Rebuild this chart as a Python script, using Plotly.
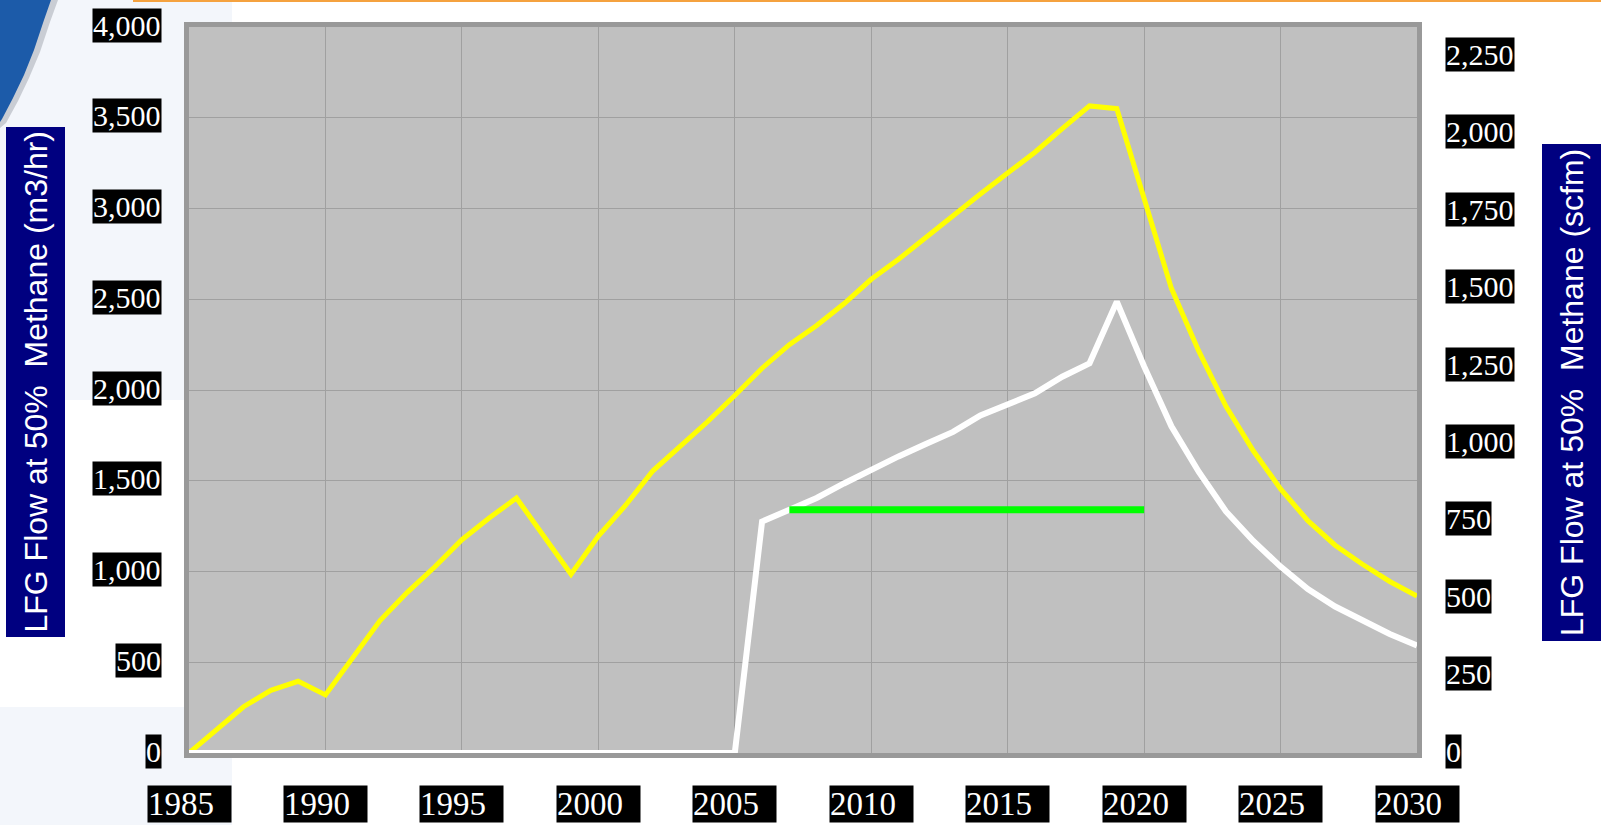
import plotly.graph_objects as go

# ---------------- data ----------------
years = list(range(1985, 2031))

lfg_generation_m3hr = [
    0, 125, 255, 345, 395, 320, 525, 730, 885, 1025,
    1175, 1295, 1405, 1200, 985, 1195, 1365, 1555, 1690, 1825,
    1970, 2120, 2250, 2355, 2475, 2610, 2720, 2840, 2965, 3080,
    3195, 3310, 3440, 3565, 3550, 3060, 2560, 2215, 1910, 1665,
    1455, 1280, 1145, 1040, 945, 865,
]

lfg_recovery_m3hr = [
    0, 0, 0, 0, 0, 0, 0, 0, 0, 0,
    0, 0, 0, 0, 0, 0, 0, 0, 0, 0,
    0, 1275, 1339, 1405, 1485, 1561, 1634, 1702, 1769, 1860,
    1921, 1982, 2073, 2147, 2487, 2130, 1800, 1550, 1331, 1168,
    1027, 903, 807, 728, 656, 592,
]

capacity_years = [2007, 2020]
capacity_m3hr = [1340, 1340]

left_tick_values = [0, 500, 1000, 1500, 2000, 2500, 3000, 3500, 4000]
left_tick_labels = ["0", "500", "1,000", "1,500", "2,000", "2,500", "3,000", "3,500", "4,000"]

right_tick_values = [0, 250, 500, 750, 1000, 1250, 1500, 1750, 2000, 2250]
right_tick_labels = ["0", "250", "500", "750", "1,000", "1,250", "1,500", "1,750", "2,000", "2,250"]

year_tick_values = [1985, 1990, 1995, 2000, 2005, 2010, 2015, 2020, 2025, 2030]
year_tick_labels = ["1985", "1990", "1995", "2000", "2005", "2010", "2015", "2020", "2025", "2030"]

left_title = "LFG Flow at 50%\u00a0 Methane (m3/hr)"
right_title = "LFG Flow at 50%\u00a0 Methane (scfm)"

# ---------------- geometry helpers ----------------
FW, FH = 1601, 825
L, R, T, B = 189, 1417, 27, 753
W, H = R - L, B - T


def px(x):
    return (x - L) / W


def py(y):
    return (B - y) / H


SERIF = "Liberation Serif, Times New Roman, Times, serif"
SANS = "Liberation Sans, Arial, sans-serif"

# ---------------- figure ----------------
fig = go.Figure()

fig.add_trace(go.Scatter(
    x=years, y=lfg_generation_m3hr, mode="lines",
    line=dict(color="#FFFF00", width=5), cliponaxis=False,
    hoverinfo="x+y", showlegend=False))

fig.add_trace(go.Scatter(
    x=years, y=lfg_recovery_m3hr, mode="lines",
    line=dict(color="#FFFFFF", width=6), cliponaxis=False,
    hoverinfo="x+y", showlegend=False))

fig.add_trace(go.Scatter(
    x=capacity_years, y=capacity_m3hr, mode="lines",
    line=dict(color="#00FF00", width=7), cliponaxis=False,
    hoverinfo="x+y", showlegend=False))

# invisible trace to instantiate the right axis
fig.add_trace(go.Scatter(
    x=[years[0]], y=[0], yaxis="y2", mode="lines",
    line=dict(color="rgba(0,0,0,0)"), hoverinfo="skip", showlegend=False))

shapes = []
panel = "#F3F6FB"
shapes.append(dict(type="rect", xref="paper", yref="paper", layer="below",
                   x0=px(0), x1=px(184), y0=py(0), y1=py(400),
                   fillcolor=panel, line=dict(width=0)))
shapes.append(dict(type="rect", xref="paper", yref="paper", layer="below",
                   x0=px(184), x1=px(232), y0=py(0), y1=py(22),
                   fillcolor=panel, line=dict(width=0)))
shapes.append(dict(type="rect", xref="paper", yref="paper", layer="below",
                   x0=px(0), x1=px(184), y0=py(707), y1=py(758),
                   fillcolor=panel, line=dict(width=0)))
shapes.append(dict(type="rect", xref="paper", yref="paper", layer="below",
                   x0=px(0), x1=px(232), y0=py(758), y1=py(FH),
                   fillcolor=panel, line=dict(width=0)))

# blue swoosh (top-left) with soft shadow
sw = [(0, 0), (51, 0), (44, 20), (34, 50), (24, 75), (13, 98), (2, 119), (0, 122)]
sh = [(0, 0), (58, 0), (50, 22), (40, 52), (29, 78), (18, 101), (6, 123), (0, 128)]


def path(pts):
    return "M " + " L ".join(f"{px(a):.5f},{py(b):.5f}" for a, b in pts) + " Z"


shapes.append(dict(type="path", xref="paper", yref="paper", layer="below",
                   path=path(sh), fillcolor="rgba(150,155,165,0.45)", line=dict(width=0)))
shapes.append(dict(type="path", xref="paper", yref="paper", layer="below",
                   path=path(sw), fillcolor="#1C5BA9", line=dict(width=0)))

# orange rule along the top
shapes.append(dict(type="rect", xref="paper", yref="paper", layer="below",
                   x0=px(133), x1=px(FW), y0=py(0), y1=py(2),
                   fillcolor="#F5A23F", line=dict(width=0)))

# axis title boxes
shapes.append(dict(type="rect", xref="paper", yref="paper", layer="above",
                   x0=px(6), x1=px(65), y0=py(127), y1=py(637),
                   fillcolor="#000080", line=dict(width=0)))
shapes.append(dict(type="rect", xref="paper", yref="paper", layer="above",
                   x0=px(1542), x1=px(FW), y0=py(144), y1=py(641),
                   fillcolor="#000080", line=dict(width=0)))

annotations = []
tick_font = dict(family=SERIF, size=30, color="#FFFFFF")
for v, t in zip(left_tick_values, left_tick_labels):
    annotations.append(dict(x=0, xref="paper", y=v, yref="y", text=t,
                            xanchor="right", yanchor="middle", xshift=-27, yshift=2,
                            showarrow=False, bgcolor="#000000", borderpad=0,
                            font=tick_font))
for v, t in zip(right_tick_values, right_tick_labels):
    annotations.append(dict(x=1, xref="paper", y=v, yref="y2", text=t,
                            xanchor="left", yanchor="middle", xshift=28, yshift=2,
                            showarrow=False, bgcolor="#000000", borderpad=0,
                            font=tick_font))
for v, t in zip(year_tick_values, year_tick_labels):
    annotations.append(dict(x=v, xref="x", y=0, yref="paper",
                            text=t + "\u00a0\u00a0",
                            xanchor="center", yanchor="middle", yshift=-51,
                            showarrow=False, bgcolor="#000000", borderpad=0,
                            font=dict(family=SERIF, size=33, color="#FFFFFF")))

title_font = dict(family=SANS, size=32, color="#FFFFFF")
annotations.append(dict(x=px(35.5), y=py(382), xref="paper", yref="paper",
                        text=left_title, textangle=-90, showarrow=False,
                        xanchor="center", yanchor="middle", font=title_font))
annotations.append(dict(x=px(1571.5), y=py(392.5), xref="paper", yref="paper",
                        text=right_title, textangle=-90, showarrow=False,
                        xanchor="center", yanchor="middle", font=title_font))

fig.update_layout(
    width=FW, height=FH, autosize=False,
    margin=dict(l=L, r=FW - R, t=T, b=FH - B, pad=0),
    paper_bgcolor="#FFFFFF", plot_bgcolor="#C0C0C0",
    showlegend=False,
    xaxis=dict(range=[1985, 2030], tickvals=year_tick_values, showticklabels=False,
               showgrid=True, gridcolor="#A0A0A0", gridwidth=1, zeroline=False,
               showline=True, mirror=True, linecolor="#999999", linewidth=5,
               ticks=""),
    yaxis=dict(range=[0, 4000], tickvals=left_tick_values, showticklabels=False,
               showgrid=True, gridcolor="#A0A0A0", gridwidth=1, zeroline=False,
               showline=True, mirror=True, linecolor="#999999", linewidth=5,
               ticks=""),
    yaxis2=dict(range=[0, 2345], overlaying="y", side="right", showgrid=False,
                showticklabels=False, zeroline=False, showline=False, ticks=""),
    shapes=shapes,
    annotations=annotations,
)

fig.write_html(
    "out.html",
    config={"displayModeBar": False},
    post_script="document.documentElement.style.margin='0';"
                "document.body.style.margin='0';"
                "document.body.style.overflow='hidden';",
)
